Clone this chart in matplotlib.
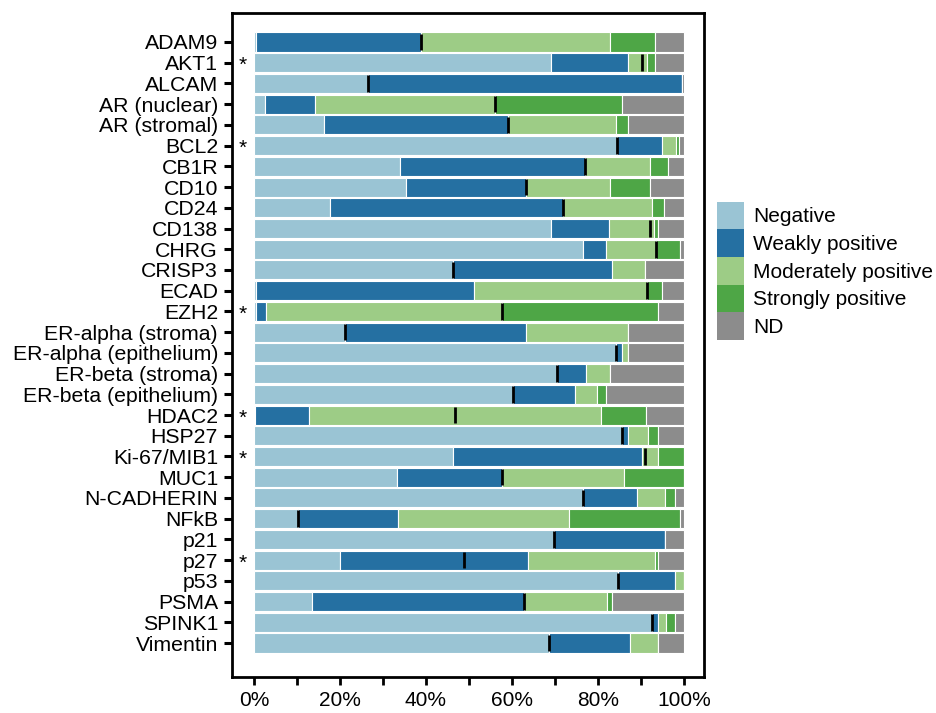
import numpy as np
import matplotlib.pyplot as plt
from matplotlib.patches import Patch

plt.rcParams['font.family'] = ['Liberation Sans', 'DejaVu Sans']

# -----------------------------
# Data (percent of cases per staining category)
# -----------------------------
markers = ["ADAM9", "AKT1", "ALCAM", "AR (nuclear)", "AR (stromal)", "BCL2", "CB1R",
           "CD10", "CD24", "CD138", "CHRG", "CRISP3", "ECAD", "EZH2",
           "ER-alpha (stroma)", "ER-alpha (epithelium)", "ER-beta (stroma)",
           "ER-beta (epithelium)", "HDAC2", "HSP27", "Ki-67/MIB1", "MUC1",
           "N-CADHERIN", "NFkB", "p21", "p27", "p53", "PSMA", "SPINK1", "Vimentin"]

negative = [0.4, 69.0, 26.6, 2.5, 16.4, 84.5, 34.0, 35.3, 17.7, 69.0, 76.5, 46.4, 0.4, 0.4,
            21.2, 84.3, 70.4, 60.3, 0.3, 85.6, 46.2, 33.2, 76.5, 10.2, 69.9, 20.1, 84.7,
            13.4, 92.6, 68.6]
weak = [38.4, 18.0, 73.0, 11.7, 42.7, 10.5, 43.1, 28.0, 54.3, 13.7, 5.4, 36.9, 50.8, 2.5,
        42.2, 1.4, 6.9, 14.5, 12.6, 1.5, 44.1, 24.6, 12.6, 23.4, 25.8, 43.7, 13.3,
        49.4, 1.5, 18.8]
moderate = [44.0, 4.5, 0.0, 42.0, 25.1, 3.3, 15.0, 19.5, 20.6, 10.3, 11.6, 7.6, 40.2, 54.9,
            23.7, 1.4, 5.5, 5.0, 67.9, 4.6, 3.7, 28.4, 6.6, 39.6, 0.0, 29.5, 2.0,
            19.3, 1.8, 6.5]
strong = [10.5, 1.8, 0.0, 29.5, 2.9, 0.6, 4.2, 9.3, 2.8, 1.0, 5.6, 0.0, 3.6, 36.2,
          0.0, 0.0, 0.0, 2.1, 10.4, 2.3, 6.0, 13.8, 2.3, 25.9, 0.0, 0.8, 0.0,
          1.2, 2.0, 0.0]
nd = [6.7, 6.7, 0.4, 14.3, 12.9, 1.1, 3.7, 7.9, 4.6, 6.0, 0.9, 9.1, 5.0, 6.0,
      12.9, 12.9, 17.2, 18.1, 8.8, 6.0, 0.0, 0.0, 2.0, 0.9, 4.3, 5.9, 0.0,
      16.7, 2.1, 6.1]
median = [38.8, 90.2, 26.6, 56.2, 59.1, 84.5, 77.1, 63.3, 72.0, 92.2, 93.5, 46.4, 91.4, 57.8,
          21.2, 84.3, 70.4, 60.3, 46.8, 85.6, 90.9, 57.8, 76.5, 10.2, 69.9, 48.9, 84.7,
          62.8, 92.6, 68.6]
significant = ["AKT1", "BCL2", "EZH2", "HDAC2", "Ki-67/MIB1", "p27"]

categories = ["Negative", "Weakly positive", "Moderately positive", "Strongly positive", "ND"]
colors = ["#9ac4d4", "#2570a2", "#9dcc86", "#4ea646", "#8c8c8c"]

# -----------------------------
# Plot
# -----------------------------
fig = plt.figure(figsize=(9.37, 7.13), dpi=100)
ax = fig.add_axes([0.2476, 0.0505, 0.5037, 0.9313])

y = np.arange(len(markers))
left = np.zeros(len(markers))
for vals, col in zip([negative, weak, moderate, strong, nd], colors):
    vals = np.array(vals)
    ax.barh(y, vals, left=left, height=0.92, color=col, edgecolor="white", linewidth=0.8)
    left += vals

ax.vlines(median, y - 0.4, y + 0.4, color="black", linewidth=2)

for i, name in enumerate(markers):
    if name in significant:
        ax.text(-2.6, i + 0.15, "*", ha="center", va="center", fontsize=15)

ax.set_yticks(y)
ax.set_yticklabels(markers, fontsize=15.3)
ax.set_ylim(len(markers) - 1 + 1.64, -1.4)
ax.set_xlim(-5.1, 104.7)
ax.set_xticks(np.arange(0, 101, 10))
ax.set_xticklabels([f"{v}%" if v % 20 == 0 else "" for v in range(0, 101, 10)], fontsize=15)
ax.tick_params(axis="x", length=6, width=2, pad=4)
ax.tick_params(axis="y", length=6, width=2.2, pad=4)
for s in ax.spines.values():
    s.set_linewidth(2)

handles = [Patch(facecolor=c, label=l) for c, l in zip(colors, categories)]
fig.legend(handles=handles, loc="upper left", bbox_to_anchor=(0.765, 0.717), frameon=False,
           fontsize=15, handlelength=1.3, handleheight=1.66, labelspacing=0.0,
           handletextpad=0.45, borderpad=0, borderaxespad=0)

fig.savefig("out.png", dpi=100)
